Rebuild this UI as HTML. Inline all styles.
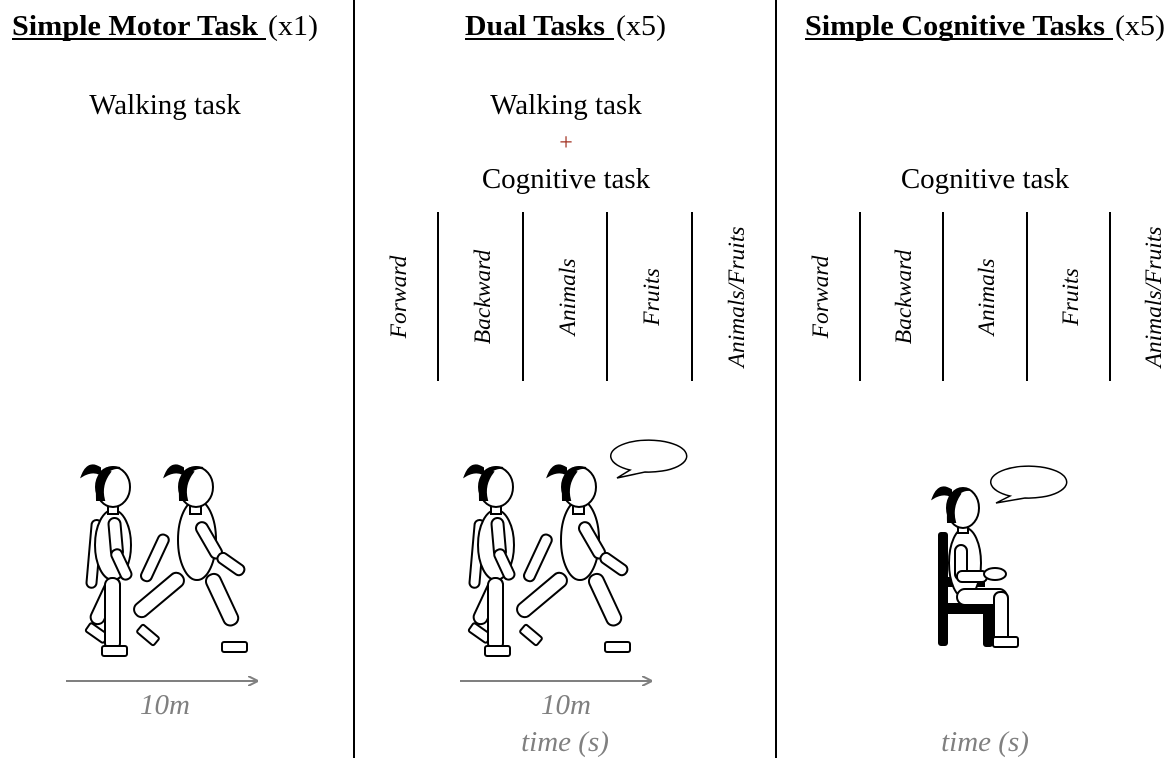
<!DOCTYPE html>
<html><head><meta charset="utf-8"><style>
html,body{margin:0;padding:0;background:#fff;}
svg{display:block;}
text{font-family:"Liberation Serif",serif;}
</style></head><body>
<svg width="1169" height="772" viewBox="0 0 1169 772" xmlns="http://www.w3.org/2000/svg">
<defs>
<marker id="ar" markerWidth="10" markerHeight="10" refX="9" refY="5" orient="auto" markerUnits="userSpaceOnUse">
<path d="M0,0 L10,5 L0,10" fill="none" stroke="#808080" stroke-width="2"/>
</marker>
<g id="w1" fill="#fff" stroke="#000" stroke-width="2">
  <rect x="108" y="578" width="14" height="50" rx="7" transform="rotate(25 115 580)"/>
  <rect x="86" y="628" width="22" height="10" rx="2" transform="rotate(35 97 633)"/>
  <rect x="92" y="520" width="10" height="68" rx="5" transform="rotate(5 97 520)"/>
  <ellipse cx="113" cy="545" rx="18" ry="35"/>
  <rect x="105" y="578" width="15" height="72" rx="7"/>
  <rect x="102" y="646" width="25" height="10" rx="2"/>
  <rect x="108" y="518" width="12" height="40" rx="6" transform="rotate(-5 114 518)"/>
  <rect x="110" y="550" width="11" height="32" rx="5" transform="rotate(-25 115 552)"/>
  <rect x="108" y="505" width="10" height="9"/>
  <ellipse cx="113" cy="487" rx="17" ry="20"/>
  <path d="M104,470 Q96,478 97,500 L104,500 Q100,485 110,472 Z" fill="#000"/>
  <path d="M100,468 Q88,460 82,476 Q92,470 100,474 Z" fill="#000"/>
  <path d="M101,472 Q108,465 120,468 Q110,467 104,476 Z" fill="#000"/>
</g>
<g id="w2" fill="#fff" stroke="#000" stroke-width="2">
  <rect x="203" y="575" width="15" height="55" rx="7" transform="rotate(-25 210 575)"/>
  <rect x="222" y="642" width="25" height="10" rx="2"/>
  <rect x="160" y="535" width="11" height="50" rx="5" transform="rotate(25 165 535)"/>
  <ellipse cx="197" cy="540" rx="19" ry="40"/>
  <rect x="172" y="575" width="15" height="60" rx="7" transform="rotate(50 180 578)"/>
  <rect x="137" y="630" width="22" height="10" rx="2" transform="rotate(40 148 635)"/>
  <rect x="193" y="523" width="12" height="40" rx="6" transform="rotate(-30 199 523)"/>
  <rect x="215" y="555" width="11" height="30" rx="5" transform="rotate(-55 220 557)"/>
  <rect x="190" y="505" width="11" height="9"/>
  <ellipse cx="196" cy="487" rx="17" ry="20"/>
  <path d="M187,470 Q179,478 180,500 L187,500 Q183,485 193,472 Z" fill="#000"/>
  <path d="M183,468 Q171,460 165,476 Q175,470 183,474 Z" fill="#000"/>
  <path d="M184,472 Q191,465 203,468 Q193,467 187,476 Z" fill="#000"/>
</g>
</defs>

<line x1="354" y1="0" x2="354" y2="758" stroke="#000" stroke-width="2"/>
<line x1="776" y1="0" x2="776" y2="758" stroke="#000" stroke-width="2"/>

<!-- titles -->
<text x="12" y="35" font-size="29" font-weight="bold" textLength="246" lengthAdjust="spacingAndGlyphs">Simple Motor Task</text>
<text x="268" y="35" font-size="29" textLength="50" lengthAdjust="spacingAndGlyphs">(x1)</text>
<line x1="12" y1="39" x2="266" y2="39" stroke="#000" stroke-width="2"/>
<text x="465" y="35" font-size="29" font-weight="bold" textLength="140" lengthAdjust="spacingAndGlyphs">Dual Tasks</text>
<text x="616" y="35" font-size="29" textLength="50" lengthAdjust="spacingAndGlyphs">(x5)</text>
<line x1="465" y1="39" x2="614" y2="39" stroke="#000" stroke-width="2"/>
<text x="805" y="35" font-size="29" font-weight="bold" textLength="300" lengthAdjust="spacingAndGlyphs">Simple Cognitive Tasks</text>
<text x="1115" y="35" font-size="29" textLength="50" lengthAdjust="spacingAndGlyphs">(x5)</text>
<line x1="805" y1="39" x2="1113" y2="39" stroke="#000" stroke-width="2"/>

<text x="165" y="114" font-size="29" text-anchor="middle">Walking task</text>
<text x="566" y="114" font-size="29" text-anchor="middle">Walking task</text>
<text x="566" y="150" font-size="24" text-anchor="middle" fill="#a03020">+</text>
<text x="566" y="188" font-size="29" text-anchor="middle">Cognitive task</text>
<text x="985" y="188" font-size="29" text-anchor="middle">Cognitive task</text>

<g stroke="#000" stroke-width="2">
<line x1="438" y1="212" x2="438" y2="381"/><line x1="523" y1="212" x2="523" y2="381"/>
<line x1="607" y1="212" x2="607" y2="381"/><line x1="692" y1="212" x2="692" y2="381"/>
<line x1="860" y1="212" x2="860" y2="381"/><line x1="943" y1="212" x2="943" y2="381"/>
<line x1="1027" y1="212" x2="1027" y2="381"/><line x1="1110" y1="212" x2="1110" y2="381"/>
</g>
<g font-size="23.5" font-style="italic" text-anchor="middle">
<text transform="translate(406,297) rotate(-90)">Forward</text>
<text transform="translate(490,297) rotate(-90)">Backward</text>
<text transform="translate(575,297) rotate(-90)">Animals</text>
<text transform="translate(659,297) rotate(-90)">Fruits</text>
<text transform="translate(744,297) rotate(-90)">Animals/Fruits</text>
<text transform="translate(828,297) rotate(-90)">Forward</text>
<text transform="translate(911,297) rotate(-90)">Backward</text>
<text transform="translate(994,297) rotate(-90)">Animals</text>
<text transform="translate(1078,297) rotate(-90)">Fruits</text>
<text transform="translate(1161,297) rotate(-90)">Animals/Fruits</text>
</g>

<use href="#w1"/><use href="#w2"/>
<use href="#w1" transform="translate(383,0)"/><use href="#w2" transform="translate(383,0)"/>

<path d="M630,470 A38,16 0 1 1 645,472 L617,478 Z" fill="#fff" stroke="#000" stroke-width="1.5"/>
<path d="M1010,496 A38,16 0 1 1 1025,498 L996,503 Z" fill="#fff" stroke="#000" stroke-width="1.5"/>

<g fill="#fff" stroke="#000" stroke-width="2">
  <rect x="939" y="533" width="8" height="112" rx="2" fill="#000"/>
  <rect x="939" y="604" width="52" height="9" fill="#000"/>
  <rect x="984" y="604" width="8" height="42" rx="2" fill="#000"/>
  <rect x="946" y="578" width="38" height="8" fill="#000"/>
  <ellipse cx="965" cy="563" rx="16" ry="35"/>
  <rect x="957" y="589" width="50" height="16" rx="8"/>
  <rect x="994" y="592" width="14" height="50" rx="6"/>
  <rect x="993" y="637" width="25" height="10" rx="2"/>
  <rect x="955" y="545" width="12" height="35" rx="6"/>
  <rect x="957" y="571" width="30" height="11" rx="5"/>
  <ellipse cx="995" cy="574" rx="11" ry="6"/>
  <rect x="958" y="525" width="10" height="8"/>
  <ellipse cx="963" cy="508" rx="16" ry="20"/>
  <path d="M955,492 Q947,500 948,522 L955,522 Q951,507 960,494 Z" fill="#000"/>
  <path d="M951,490 Q939,482 933,498 Q943,492 951,496 Z" fill="#000"/>
  <path d="M952,494 Q959,487 970,490 Q961,489 955,498 Z" fill="#000"/>
</g>

<line x1="66" y1="681" x2="257" y2="681" stroke="#808080" stroke-width="2" marker-end="url(#ar)"/>
<line x1="460" y1="681" x2="651" y2="681" stroke="#808080" stroke-width="2" marker-end="url(#ar)"/>
<g fill="#808080" font-size="29" font-style="italic" text-anchor="middle">
<text x="165" y="714">10m</text>
<text x="566" y="714">10m</text>
<text x="565" y="751">time (s)</text>
<text x="985" y="751">time (s)</text>
</g>
</svg>
</body></html>
